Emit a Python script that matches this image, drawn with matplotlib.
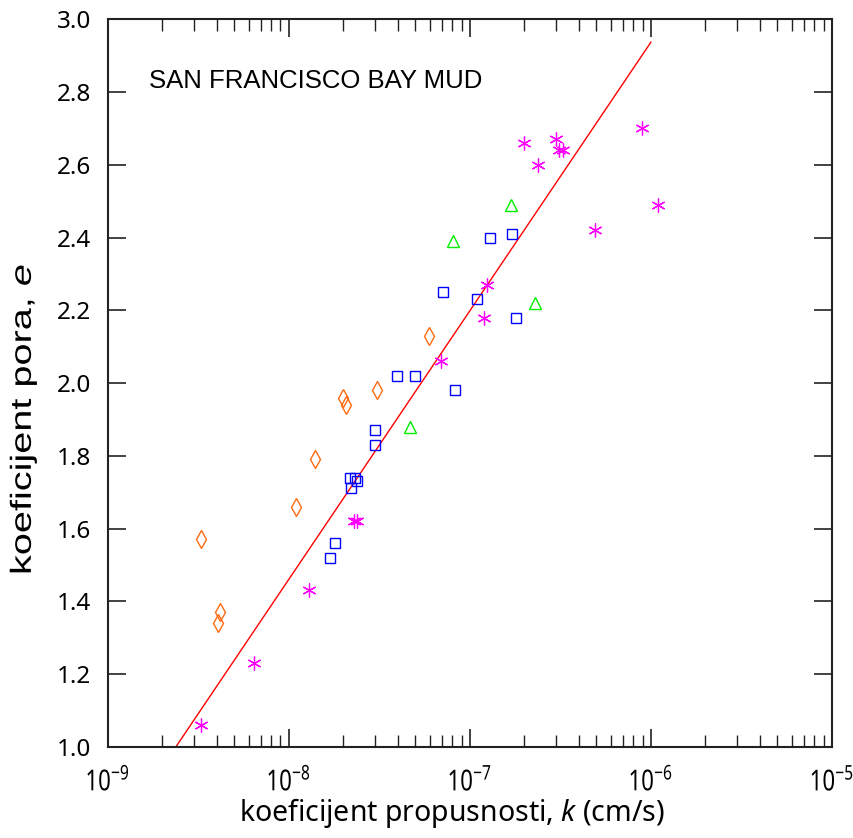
import matplotlib
matplotlib.use("Agg")
import matplotlib.pyplot as plt
import numpy as np
from matplotlib.ticker import LogLocator, NullFormatter
from matplotlib.patheffects import AbstractPathEffect
from matplotlib.transforms import Affine2D

# San Francisco Bay Mud: permeability k (cm/s) vs void ratio e
diamond_k = [3.28e-9, 4.18e-9, 4.05e-9, 1.09e-8, 1.39e-8, 1.99e-8, 2.08e-8, 3.08e-8, 5.97e-8]
diamond_e = [1.57, 1.37, 1.34, 1.66, 1.79, 1.96, 1.94, 1.98, 2.13]

square_k = [3.98e-8, 4.98e-8, 8.3e-8, 2.98e-8, 2.98e-8, 2.19e-8, 2.31e-8, 2.39e-8, 2.22e-8,
            1.80e-8, 1.69e-8, 7.13e-8, 1.10e-7, 1.30e-7, 1.70e-7, 1.79e-7]
square_e = [2.02, 2.02, 1.98, 1.87, 1.83, 1.74, 1.74, 1.73, 1.71,
            1.56, 1.52, 2.25, 2.23, 2.40, 2.41, 2.18]

triangle_k = [8.05e-8, 4.69e-8, 1.69e-7, 2.30e-7]
triangle_e = [2.39, 1.88, 2.49, 2.22]

aster_k = [3.28e-9, 6.44e-9, 1.29e-8, 2.29e-8, 2.39e-8, 6.95e-8, 1.24e-7, 1.19e-7,
           2.0e-7, 2.39e-7, 3.0e-7, 3.1e-7, 3.27e-7, 4.89e-7, 8.97e-7, 1.09e-6]
aster_e = [1.06, 1.23, 1.43, 1.62, 1.62, 2.06, 2.27, 2.18,
           2.66, 2.60, 2.67, 2.64, 2.64, 2.42, 2.70, 2.49]

# Fitted trend: e = e_ref + slope * log10(k / k_ref)
fit_k = [2.38e-9, 1.0e-6]
fit_e_ref = 2.937
fit_k_ref = 1.0e-6
fit_slope = 0.7385

x_ticks = [1e-9, 1e-8, 1e-7, 1e-6, 1e-5]
y_ticks = [1.0, 1.2, 1.4, 1.6, 1.8, 2.0, 2.2, 2.4, 2.6, 2.8, 3.0]


class Stretch(AbstractPathEffect):
    """Scale glyph outlines relative to the text origin."""

    def __init__(self, sx=1.0, sy=1.0):
        super().__init__()
        self._sx, self._sy = sx, sy

    def draw_path(self, renderer, gc, tpath, affine, rgbFace=None):
        renderer.draw_path(gc, tpath, Affine2D().scale(self._sx, self._sy) + affine, rgbFace)


tick_font = "Noto Sans"
plt.rcParams["axes.unicode_minus"] = False
plt.rcParams["mathtext.fontset"] = "custom"
plt.rcParams["mathtext.rm"] = tick_font
plt.rcParams["mathtext.it"] = tick_font + ":italic"
plt.rcParams["mathtext.sf"] = "Liberation Sans:italic"
plt.rcParams["mathtext.default"] = "regular"

fig = plt.figure(figsize=(8.54, 8.38), dpi=100)
ax = fig.add_axes([0.1261, 0.1089, 0.9742 - 0.1261, 0.977 - 0.1089])

fit_e = [fit_e_ref + fit_slope * np.log10(k / fit_k_ref) for k in fit_k]
ax.plot(fit_k, fit_e, color="#ff0000", lw=1.0, zorder=2)

ax.plot(diamond_k, diamond_e, ls="none", marker="d", ms=9, mfc="none",
        mec="#ff6a10", mew=1.0, zorder=3)
ax.plot(square_k, square_e, ls="none", marker="s", ms=7, mfc="none",
        mec="#0000ff", mew=1.0, zorder=3)
ax.plot(triangle_k, triangle_e, ls="none", marker="^", ms=9, mfc="none",
        mec="#00ee00", mew=1.0, zorder=3)
ax.plot(aster_k, aster_e, ls="none", marker=(6, 2, 0), ms=10, mfc="none",
        mec="#ff00ff", mew=0.9, zorder=3)

ax.set_xscale("log")
ax.set_xlim(1e-9, 1e-5)
ax.set_ylim(1.0, 3.0)
ax.set_xticks(x_ticks)
ax.xaxis.set_minor_locator(LogLocator(base=10, subs=np.arange(2, 10), numticks=20))
ax.xaxis.set_minor_formatter(NullFormatter())
ax.set_yticks(y_ticks)
ax.set_yticklabels([f"{v:.1f}" for v in y_ticks])

ax.tick_params(axis="both", which="major", direction="in", top=True, right=True,
               length=13, width=1.2, color="#222222")
ax.tick_params(axis="x", which="minor", direction="in", top=True, bottom=True,
               length=8.5, width=1.0, color="#222222")
ax.tick_params(axis="x", which="major", pad=17, labelsize=16)
ax.tick_params(axis="y", which="major", pad=12, labelsize=17.5)
for lab in ax.get_xticklabels() + ax.get_yticklabels():
    lab.set_fontfamily(tick_font)
for tick in ax.xaxis.get_major_ticks():
    tick.label1.set_path_effects([Stretch(1.0, 1.3)])
for sp in ax.spines.values():
    sp.set_linewidth(1.5)
    sp.set_color("#222222")

ax.set_xlabel("koeficijent propusnosti, $\\it{k}$ (cm/s)", fontsize=20.5,
              fontfamily=tick_font, va="top")
ax.xaxis.set_label_coords(0.4747, -0.068)

ylab = fig.text(23 / 854, 1 - 575 / 838, "koeficijent pora, $\\mathsf{e}$",
                rotation=90, ha="center", va="bottom", fontsize=21,
                fontfamily="Liberation Sans")
ylab.set_path_effects([Stretch(1.36, 1.0)])

ax.text(0.057, 0.9145, "SAN FRANCISCO BAY MUD", transform=ax.transAxes,
        fontsize=18.5, fontfamily="Liberation Sans", ha="left", va="center")

fig.savefig("out.png", dpi=100)
